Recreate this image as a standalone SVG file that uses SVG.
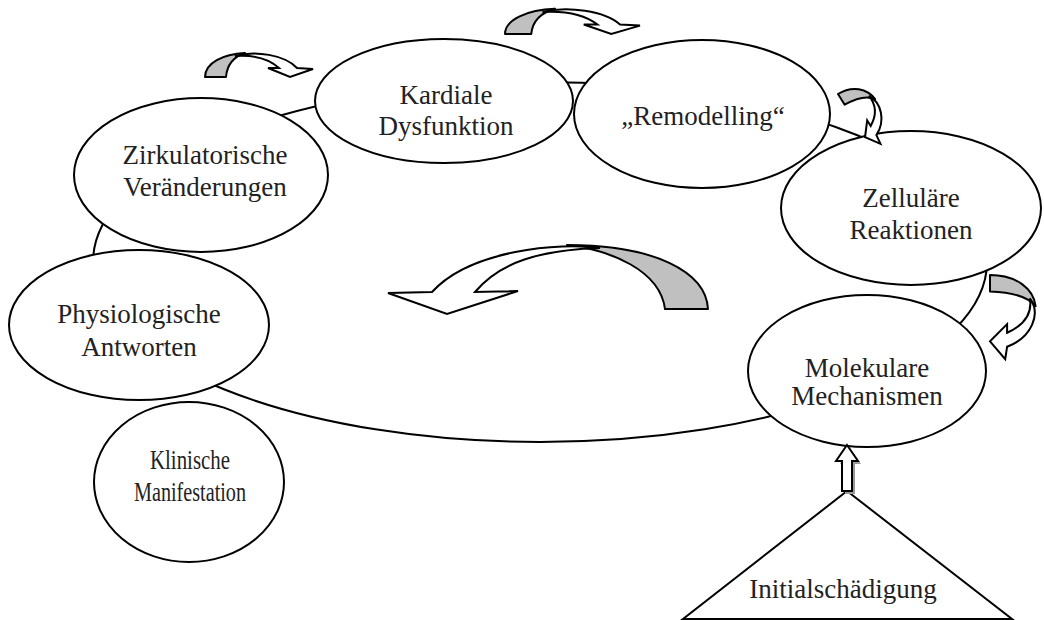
<svg xmlns="http://www.w3.org/2000/svg" xmlns:xlink="http://www.w3.org/1999/xlink" width="1044" height="620" viewBox="0 0 1044 620">
<style>
.node{fill:#fff;stroke:#000;stroke-width:2}
.ring{fill:none;stroke:#000;stroke-width:2}
.lbl{font-family:"Liberation Serif","Times New Roman",serif;font-size:27px;fill:#222;text-anchor:middle}
.g{fill:#c0c0c0;stroke:#000;stroke-width:2;stroke-linejoin:round}
.w{fill:#fff;stroke:#000;stroke-width:2;stroke-linejoin:miter}
.ns{vector-effect:non-scaling-stroke}
</style>
<defs>
<g id="carrow">
<path class="g ns" d="M0,0 C0,-14 18,-23 40,-24 C28,-20 22,-12 21,0 Z"/>
<path class="w ns" d="M30,-21 C50,-27 80,-22 92,-9 L108,-8 L85,0 L63,-9 L74,-9 C62,-20 45,-22 30,-21 Z"/>
</g>
</defs>
<rect width="1044" height="620" fill="#fff"/>
<g id="connectors">
<ellipse class="ring" cx="540" cy="262" rx="447" ry="180"/>
</g>
<g id="node-kardiale">
<ellipse class="node" cx="444" cy="101" rx="129" ry="62"/>
<text class="lbl" x="446" y="104">Kardiale</text>
<text class="lbl" x="446" y="135">Dysfunktion</text>
</g>
<g id="node-remodelling">
<ellipse class="node" cx="702" cy="114" rx="128" ry="74"/>
<text class="lbl" x="703" y="125">„Remodelling“</text>
</g>
<g id="node-zirkulatorische">
<ellipse class="node" cx="201" cy="175" rx="127" ry="77"/>
<text class="lbl" x="205" y="164">Zirkulatorische</text>
<text class="lbl" x="205" y="196">Veränderungen</text>
</g>
<g id="node-physiologische">
<ellipse class="node" cx="139" cy="325" rx="130" ry="75"/>
<text class="lbl" x="139" y="323">Physiologische</text>
<text class="lbl" x="139" y="356">Antworten</text>
</g>
<g id="node-klinische">
<ellipse class="node" cx="189" cy="482" rx="95" ry="80"/>
<text class="lbl" x="190" y="469" textLength="80" lengthAdjust="spacingAndGlyphs">Klinische</text>
<text class="lbl" x="190" y="501" textLength="112" lengthAdjust="spacingAndGlyphs">Manifestation</text>
</g>
<g id="node-zellulaere">
<ellipse class="node" cx="911" cy="208" rx="130" ry="77"/>
<text class="lbl" x="911" y="207">Zelluläre</text>
<text class="lbl" x="911" y="239">Reaktionen</text>
</g>
<g id="node-molekulare">
<ellipse class="node" cx="867" cy="371" rx="119" ry="76"/>
<text class="lbl" x="867" y="377">Molekulare</text>
<text class="lbl" x="867" y="405">Mechanismen</text>
</g>
<g id="node-initial">
<polygon class="node" points="847,491 683,619 1012,619"/>
<text class="lbl" x="843" y="598">Initialschädigung</text>
</g>
<g id="arrows">
<use xlink:href="#carrow" transform="translate(205,77)"/>
<use xlink:href="#carrow" transform="translate(505,34) scale(1.25,1.05)"/>
<use xlink:href="#carrow" transform="translate(838,94) rotate(58) scale(0.6,1.2)"/>
<use xlink:href="#carrow" transform="translate(990,275) rotate(90) scale(0.78,1.9)"/>
<path class="g" d="M708,309 C706,272 655,245 567,245 C610,250 660,270 665,309 Z"/>
<path class="w" d="M600,248 C560,242 470,250 432,292 L388,293 L447,314 L518,291 L475,292 C500,262 540,250 600,248 Z"/>
<path d="M850,448 L861,464 L855,464 L855,494 L845,494 L845,464 L840,464 Z" fill="#999" stroke="none"/>
<path class="w" d="M847,445 L858,461 L852,461 L852,491 L842,491 L842,461 L836,461 Z"/>
</g>
</svg>
